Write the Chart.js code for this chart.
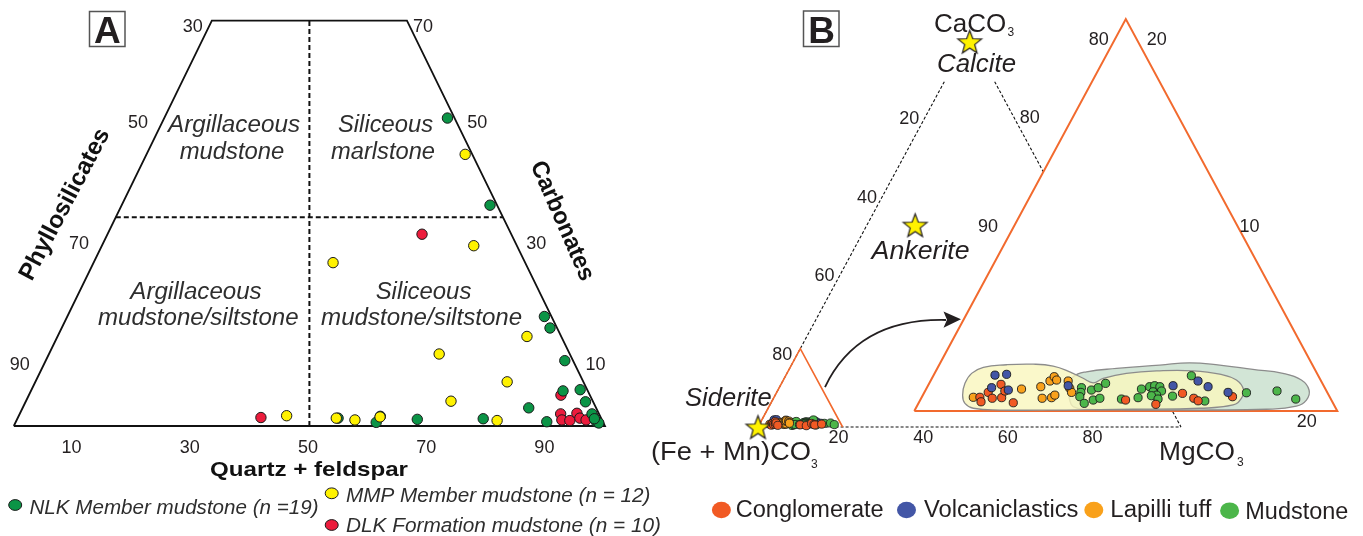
<!DOCTYPE html>
<html>
<head>
<meta charset="utf-8">
<title>Ternary diagrams A and B</title>
<script src="https://cdn.jsdelivr.net/npm/chart.js@4.4.1/dist/chart.umd.min.js"></script>
<style>
  html, body { margin: 0; padding: 0; background: #ffffff; }
  #wrap { position: relative; width: 1363px; height: 536px; overflow: hidden; background: #fff; }
  #wrap canvas { position: absolute; left: 0; top: 0; }
</style>
</head>
<body>
<div id="wrap">
  <canvas id="chartA" width="1363" height="536"></canvas>
  <canvas id="chartB" width="1363" height="536"></canvas>
</div>
<script>
// ================= PANEL A DATA: [Quartz + feldspar %], [Carbonates %] (phyllosilicates = rest)
const nlkQF   = [47.9, 62.3, 80.7, 82.6, 87.8, 90.0, 92.8, 94.7, 85.6, 54.2, 61.0, 61.2, 67.7, 78.8, 89.8, 96.8, 98.2, 98.7, 97.6];
const nlkCarb = [50.9, 36.5, 18.1, 16.2, 10.8,  5.8,  6.0,  4.0,  3.0,  1.3,  0.6,  1.6,  1.1,  1.2,  0.7,  2.0,  0.7,  0.5,  1.2];
const mmpQF   = [53.9, 62.9, 40.5, 79.4, 66.0, 79.8, 71.9, 45.3, 53.9, 57.2, 61.2, 81.3];
const mmpCarb = [44.9, 29.8, 27.0, 14.8, 11.9,  7.3,  4.1,  1.7,  1.3,  1.0,  1.5,  0.9];
const dlkQF   = [53.2, 90.0, 41.1, 91.5, 92.2, 93.6, 94.2, 95.1, 97.3, 96.3];
const dlkCarb = [31.7,  5.1,  1.4,  2.0,  1.0,  0.9,  2.1,  1.3,  1.5,  1.0];
const seriesANames  = ['NLK Member mudstone (n =19)', 'MMP Member mudstone (n = 12)', 'DLK Formation mudstone (n = 10)'];
const seriesAColors = ['#0b9446', '#fff200', '#ec1c3c'];
const topCarb = 67;            // carbonate % at the truncated top edge
const boundaryCarb = 34.5;     // horizontal class boundary (carbonate %)
const boundaryQF = 50;         // vertical class boundary (QF = phyllosilicates)
const tickQF = [10, 30, 50, 70, 90];
const tickPhyllo = [90, 70, 50, 30];
const tickCarb = [10, 30, 50, 70];

// ================= PANEL B DATA: [MgCO3 %], [CaCO3 %] ((Fe+Mn)CO3 = rest)
const conglMg = [2.75, 2.92, 3.02, 3.36, 3.42, 3.79, 3.77, 4.47, 9.71, 11.25, 12.23, 12.89, 13.16, 14.68];
const conglCa = [0.70, 0.47, 0.95, 0.65, 1.36, 0.68, 1.02, 0.42, 0.56, 0.34, 0.90, 0.65, 0.52, 0.73];
const volcMg  = [3.06, 2.90, 3.43, 3.91, 6.63, 11.59, 12.65, 13.27, 14.36];
const volcCa  = [1.19, 1.83, 1.87, 1.07, 1.29, 1.29, 1.53, 1.24, 0.95];
const lapMg   = [2.44, 4.51, 5.36, 5.72, 6.15, 6.24, 5.65, 5.74, 5.94, 6.51, 6.77, 6.96];
const lapCa   = [0.70, 1.12, 1.24, 0.65, 0.68, 0.81, 1.53, 1.75, 1.58, 1.53, 1.16, 0.95];
const mudMg   = [7.31, 7.40, 7.46, 7.84, 7.84, 8.10, 8.34, 8.18, 8.45, 9.49, 10.18, 10.24, 10.51, 10.72, 10.99, 11.18, 10.80, 11.05, 10.82, 11.22, 11.83, 12.20, 13.48, 15.24, 16.64, 17.73];
const mudCa   = [1.19, 0.95, 0.73, 0.39, 1.07, 1.19, 1.41, 0.56, 0.65, 0.61, 1.12, 0.68, 1.24, 1.29, 1.24, 1.02, 0.98, 0.81, 0.78, 0.61, 0.76, 1.80, 0.51, 0.93, 1.02, 0.61];
const seriesBNames  = ['Conglomerate', 'Volcaniclastics', 'Lapilli tuff', 'Mudstone'];
const seriesBColors = ['#f15a24', '#4356a6', '#f9a11b', '#4cb64a'];
// envelopes (field outlines) in the enlarged triangle
const yellowEnvMg = [7.17, 4.02, 2.72, 2.20, 1.88, 1.69, 1.75, 2.15, 3.18, 4.42, 5.42, 6.35, 7.15, 7.74, 8.10, 9.07, 10.58, 12.16, 13.50, 14.44, 15.04, 15.14, 14.92, 13.43, 10.30, 7.17];
const yellowEnvCa = [0.05, 0.05, 0.14, 0.39, 0.81, 1.41, 1.92, 2.23, 2.36, 2.39, 2.29, 2.00, 1.67, 1.44, 1.67, 1.92, 2.05, 2.05, 1.88, 1.58, 1.07, 0.65, 0.31, 0.14, 0.09, 0.05];
const greenEnvMg = [10.32, 8.10, 7.40, 7.07, 6.65, 6.64, 7.14, 8.48, 10.44, 11.79, 13.27, 14.95, 16.47, 17.51, 18.13, 18.26, 17.94, 16.61, 13.47, 10.32];
const greenEnvCa = [0.05, 0.09, 0.22, 0.56, 1.24, 1.75, 2.00, 2.17, 2.34, 2.46, 2.34, 2.12, 1.92, 1.58, 1.07, 0.56, 0.25, 0.09, 0.05, 0.05];
// end-member minerals
const mineralNames = ['Calcite', 'Ankerite', 'Siderite'];
const mineralMg = [0.9, 11.4, 0.0];
const mineralCa = [98.3, 51.5, 0.0];
const tickMainFe = [20, 40, 60, 80];
const tickMainCa = [80];
const tickMainMg = [20, 40, 60, 80];
const tickZoomFe = [80, 90];
const tickZoomCa = [20, 10];
const tickZoomMg = [20];
const zoomMax = 20;          // enlarged triangle covers 0-20 % MgCO3 / CaCO3

// ================= GEOMETRY (layout) =================
const W = 1363, H = 536;
const FONT = '"Liberation Sans", Arial, Helvetica, sans-serif';
const INK = '#231f20';
// Panel A: ternary X = QF + Carb/2, Y = Carb
const A_PX = 5.912, A_X0 = 13.8, A_PY = 6.05, A_Y0 = 426;
const tA = (q, c) => ({ x: q + c / 2, y: c });
// Panel B: X = Mg + Ca/2, Y = Ca (main triangle 0..100)
const B_PX = 4.23, B_X0 = 758, B_PY = 3.92, B_Y0 = 427;
const tB = (mg, ca) => ({ x: mg + ca / 2, y: ca });
const ZK = 100 / zoomMax, ZO = { x: 36.95, y: 4.08 };
const tZ = (mg, ca) => ({ x: ZO.x + ZK * (mg + ca / 2), y: ZO.y + ZK * ca });

function txt(ctx, s, x, y, o) {
  o = o || {};
  ctx.save();
  ctx.translate(x, y);
  if (o.rot) ctx.rotate(o.rot * Math.PI / 180);
  ctx.font = (o.style || 'normal') + ' ' + (o.weight || 'normal') + ' ' + (o.size || 18) + 'px ' + FONT;
  ctx.fillStyle = o.color || INK;
  ctx.textBaseline = o.baseline || 'alphabetic';
  ctx.textAlign = 'left';
  const m = ctx.measureText(s).width;
  const sx = o.w ? o.w / m : 1;
  ctx.scale(sx, 1);
  let off = 0;
  if (o.align === 'center') off = -m / 2; else if (o.align === 'right') off = -m;
  ctx.fillText(s, off, 0);
  ctx.restore();
}

function baseOptions(xmin, xmax, ymin, ymax) {
  return {
    responsive: false, maintainAspectRatio: false, animation: false, devicePixelRatio: 1,
    events: [],
    layout: { padding: 0, autoPadding: false },
    plugins: { legend: { display: false }, tooltip: { enabled: false }, title: { display: false } },
    scales: {
      x: { type: 'linear', min: xmin, max: xmax, display: false },
      y: { type: 'linear', min: ymin, max: ymax, display: false }
    }
  };
}
function lineDS(data, o) {
  return Object.assign({ data, showLine: true, pointRadius: 0, borderColor: '#111', borderWidth: 1.5, fill: false, tension: 0 }, o);
}
function ptDS(label, data, color, o) {
  return Object.assign({ label, data, showLine: false, pointRadius: 5.2, pointBackgroundColor: color,
    pointBorderColor: '#1a1a1a', pointBorderWidth: 1, backgroundColor: color, borderColor: '#1a1a1a' }, o);
}
const zipA = (qs, cs) => qs.map((q, i) => tA(q, cs[i]));
const zipB = (ms, cs, f) => ms.map((m, i) => f(m, cs[i]));

// ================= CHART A =================
const optA = baseOptions(-A_X0 / A_PX, (W - A_X0) / A_PX, -(H - A_Y0) / A_PY, A_Y0 / A_PY);
const textA = {
  id: 'textA',
  afterDraw(chart) {
    const ctx = chart.ctx, xs = chart.scales.x, ys = chart.scales.y;
    const px = p => ({ x: xs.getPixelForValue(p.x), y: ys.getPixelForValue(p.y) });
    // panel letter
    ctx.save(); ctx.strokeStyle = '#555'; ctx.lineWidth = 1.5; ctx.strokeRect(89.5, 11.5, 35.5, 35); ctx.restore();
    txt(ctx, 'A', 107.3, 43.3, { size: 37, weight: 'bold', align: 'center' });
    // bottom ticks
    tickQF.forEach(v => { const p = px(tA(v, 0)); txt(ctx, String(v), p.x - 1.5, p.y + 27, { size: 18, align: 'center' }); });
    // left ticks (phyllosilicates)
    tickPhyllo.forEach(v => {
      const c = 100 - v;
      if (c > topCarb) { const p = px(tA(0, topCarb)); txt(ctx, String(v), p.x - 9, p.y + 11, { size: 18, align: 'right' }); }
      else { const p = px(tA(0, c)); txt(ctx, String(v), p.x - 13.5, p.y + 4, { size: 18, align: 'right' }); }
    });
    // right ticks (carbonates)
    tickCarb.forEach(c => {
      if (c > topCarb) { const p = px(tA(100 - topCarb, topCarb)); txt(ctx, String(c), p.x + 6, p.y + 11, { size: 18, align: 'left' }); }
      else { const p = px(tA(100 - c, c)); txt(ctx, String(c), p.x + 10, p.y + 4, { size: 18, align: 'left' }); }
    });
    // axis titles
    txt(ctx, 'Quartz + feldspar', 309, 476, { size: 21, weight: 'bold', align: 'center', w: 198, color: '#111' });
    txt(ctx, 'Phyllosilicates', 65, 204.5, { size: 24, weight: 'bold', align: 'center', baseline: 'middle', rot: -62.2, w: 168, color: '#111' });
    txt(ctx, 'Carbonates', 562, 221, { size: 24, weight: 'bold', align: 'center', baseline: 'middle', rot: 66.4, w: 128, color: '#111' });
    // field names
    const f = { size: 23, style: 'italic', align: 'center', color: '#2e2e2e' };
    txt(ctx, 'Argillaceous', 234, 131.7, Object.assign({ w: 132 }, f));
    txt(ctx, 'mudstone', 232, 159, Object.assign({ w: 104.7 }, f));
    txt(ctx, 'Siliceous', 385.5, 131.7, Object.assign({ w: 95 }, f));
    txt(ctx, 'marlstone', 383, 159, Object.assign({ w: 104 }, f));
    txt(ctx, 'Argillaceous', 196, 299.3, Object.assign({ w: 131.3 }, f));
    txt(ctx, 'mudstone/siltstone', 198.3, 325, Object.assign({ w: 200.5 }, f));
    txt(ctx, 'Siliceous', 423.5, 299.3, Object.assign({ w: 95.7 }, f));
    txt(ctx, 'mudstone/siltstone', 421.6, 325, Object.assign({ w: 201 }, f));
    // legend
    const leg = [[15.2, 505, 29.5, 514, 289], [331.7, 493.3, 346, 501.7, 304.5], [331.7, 525, 346, 532, 315]];
    leg.forEach((L, i) => {
      ctx.save(); ctx.beginPath(); ctx.ellipse(L[0], L[1], 6.5, 5.4, 0, 0, Math.PI * 2);
      ctx.fillStyle = seriesAColors[i]; ctx.fill(); ctx.lineWidth = 1; ctx.strokeStyle = '#1a1a1a'; ctx.stroke(); ctx.restore();
      txt(ctx, seriesANames[i], L[2], L[3], { size: 20, style: 'italic', w: L[4], color: '#2e2e2e' });
    });
  }
};
new Chart(document.getElementById('chartA'), {
  type: 'scatter',
  data: {
    datasets: [
      lineDS([tA(0, 0), tA(0, topCarb), tA(100 - topCarb, topCarb), tA(100, 0), tA(0, 0)], { borderWidth: 1.8, order: 10 }),
      lineDS([tA(boundaryQF, 0), tA(boundaryQF - topCarb / 2, topCarb)], { borderDash: [5, 3], borderWidth: 2, order: 11 }),
      lineDS([tA(0, boundaryCarb), tA(100 - boundaryCarb, boundaryCarb)], { borderDash: [5, 3], borderWidth: 2, order: 11 }),
      ptDS(seriesANames[2], zipA(dlkQF, dlkCarb), seriesAColors[2], { order: 3 }),
      ptDS(seriesANames[0], zipA(nlkQF, nlkCarb), seriesAColors[0], { order: 2 }),
      ptDS(seriesANames[1], zipA(mmpQF, mmpCarb), seriesAColors[1], { order: 1 })
    ]
  },
  options: optA,
  plugins: [textA]
});

// ================= CHART B =================
function starImg(r) {
  const s = Math.ceil(r * 2 + 4);
  const c = document.createElement('canvas'); c.width = s; c.height = s;
  const g = c.getContext('2d');
  g.translate(s / 2, s / 2 + r * 0.1);
  g.beginPath();
  for (let i = 0; i < 10; i++) {
    const rr = i % 2 ? r * 0.42 : r; const a = -Math.PI / 2 + i * Math.PI / 5;
    g.lineTo(rr * Math.cos(a), rr * Math.sin(a));
  }
  g.closePath(); g.fillStyle = '#fff200'; g.fill(); g.lineWidth = 1.2; g.strokeStyle = '#231f20'; g.stroke();
  return c;
}
const STAR = starImg(12.5);
const optB = baseOptions(-B_X0 / B_PX, (W - B_X0) / B_PX, -(H - B_Y0) / B_PY, B_Y0 / B_PY);
const ORANGE = '#f26a2e';
const textB = {
  id: 'textB',
  afterDraw(chart) {
    const ctx = chart.ctx, xs = chart.scales.x, ys = chart.scales.y;
    const px = p => ({ x: xs.getPixelForValue(p.x), y: ys.getPixelForValue(p.y) });
    ctx.save(); ctx.strokeStyle = '#555'; ctx.lineWidth = 1.5; ctx.strokeRect(803.5, 11, 35.5, 35.5); ctx.restore();
    txt(ctx, 'B', 821.5, 42.5, { size: 37, weight: 'bold', align: 'center' });
    // end-member labels
    txt(ctx, 'CaCO', 934, 32, { size: 26 });
    txt(ctx, '3', 1007.5, 35.5, { size: 12 });
    txt(ctx, '(Fe + Mn)CO', 651, 460, { size: 26, w: 160 });
    txt(ctx, '3', 811, 467.5, { size: 12 });
    txt(ctx, 'MgCO', 1159, 460, { size: 26, w: 76 });
    txt(ctx, '3', 1237, 466, { size: 12 });
    // mineral names
    txt(ctx, mineralNames[0], 937, 72, { size: 25, style: 'italic', w: 79 });
    txt(ctx, mineralNames[1], 871.6, 259, { size: 26, style: 'italic', w: 98 });
    txt(ctx, mineralNames[2], 685, 406, { size: 25, style: 'italic', w: 86.7 });
    // main triangle ticks
    tickMainFe.forEach(v => { const p = px(tB(0, 100 - v)); txt(ctx, String(v), p.x - 8, p.y + 11, { size: 18, align: 'right' }); });
    tickMainCa.forEach(v => { const p = px(tB(100 - v, v)); txt(ctx, String(v), p.x + 8, p.y + 9.5, { size: 18, align: 'left' }); });
    tickMainMg.forEach(v => { const p = px(tB(v, 0)); txt(ctx, String(v), p.x - 4, p.y + 16, { size: 18, align: 'center' }); });
    // enlarged triangle ticks
    tickZoomFe.forEach(v => {
      const ca = 100 - v; const p = px(tZ(0, ca));
      if (ca >= zoomMax) txt(ctx, String(v), p.x - 17, p.y + 26, { size: 18, align: 'right' });
      else txt(ctx, String(v), p.x - 22, p.y + 16.7, { size: 18, align: 'right' });
    });
    tickZoomCa.forEach(v => {
      const p = px(tZ(zoomMax - v, v));
      if (v >= zoomMax) txt(ctx, String(v), p.x + 21, p.y + 26, { size: 18, align: 'left' });
      else txt(ctx, String(v), p.x + 8, p.y + 16.7, { size: 18, align: 'left' });
    });
    tickZoomMg.forEach(v => { const p = px(tZ(v, 0)); txt(ctx, String(v), p.x - 20.6, p.y + 15.7, { size: 18, align: 'right' }); });
    // arrow from small to enlarged triangle
    const a0 = px({ x: 15.84, y: 10.2 }), a1 = px({ x: 23.64, y: 27.8 }), a2 = px({ x: 43.97, y: 27.3 }), tip = px({ x: 47.99, y: 27.5 });
    ctx.save();
    ctx.strokeStyle = INK; ctx.lineWidth = 1.8;
    ctx.beginPath(); ctx.moveTo(a0.x, a0.y); ctx.quadraticCurveTo(a1.x, a1.y, a2.x + 2, a2.y); ctx.stroke();
    ctx.beginPath(); ctx.moveTo(tip.x, tip.y); ctx.lineTo(tip.x - 17.5, tip.y - 7.8); ctx.lineTo(tip.x - 14, tip.y + 0.5); ctx.lineTo(tip.x - 17.5, tip.y + 8.6); ctx.closePath();
    ctx.fillStyle = INK; ctx.fill();
    ctx.restore();
    // legend
    const leg = [[721.4, 510, 735.7, 516.7, 148], [906.5, 510, 923.9, 516.7, 154.6], [1093.8, 510, 1110.3, 516.7, 101], [1229.6, 510.7, 1245.3, 519.3, 103]];
    leg.forEach((L, i) => {
      ctx.save(); ctx.beginPath(); ctx.ellipse(L[0], L[1], 9.5, 8.3, 0, 0, Math.PI * 2);
      ctx.fillStyle = seriesBColors[i]; ctx.fill(); ctx.restore();
      txt(ctx, seriesBNames[i], L[2], L[3], { size: 23, w: L[4] });
    });
  }
};
const topCa = 88.1;  // dashed edges start below the CaCO3 label
const envStyle = { borderColor: '#8c8c8c', borderWidth: 1.3, tension: 0.45, fill: 'shape' };
new Chart(document.getElementById('chartB'), {
  type: 'scatter',
  data: {
    datasets: [
      lineDS([tB(0, topCa), tB(0, 0), tB(100, 0)], { borderDash: [3, 2], borderWidth: 1.1, order: 30 }),
      lineDS([tB(100 - topCa, topCa), tB(100, 0)], { borderDash: [3, 2], borderWidth: 1.1, order: 30 }),
      lineDS([tB(0, 0), tB(0, zoomMax), tB(zoomMax, 0)], { borderColor: ORANGE, borderWidth: 1.6, order: 29 }),
      ptDS(seriesBNames[3], zipB(mudMg, mudCa, tB), seriesBColors[3], { pointRadius: 4.1, pointBorderWidth: 0.8, order: 25 }),
      ptDS(seriesBNames[2], zipB(lapMg, lapCa, tB), seriesBColors[2], { pointRadius: 4.1, pointBorderWidth: 0.8, order: 24 }),
      ptDS(seriesBNames[0], zipB(conglMg, conglCa, tB), seriesBColors[0], { pointRadius: 4.1, pointBorderWidth: 0.8, order: 23 }),
      ptDS(seriesBNames[1], zipB(volcMg, volcCa, tB), seriesBColors[1], { pointRadius: 4.1, pointBorderWidth: 0.8, order: 26 }),
      lineDS([tZ(0, 0), tZ(0, zoomMax), tZ(zoomMax, 0), tZ(0, 0)], { borderColor: ORANGE, borderWidth: 2, backgroundColor: '#ffffff', fill: 'shape', order: 20 }),
      lineDS(zipB(greenEnvMg, greenEnvCa, tZ), Object.assign({ backgroundColor: 'rgba(205,226,210,0.9)', order: 15 }, envStyle)),
      lineDS(zipB(yellowEnvMg, yellowEnvCa, tZ), Object.assign({ backgroundColor: 'rgba(249,246,190,0.82)', order: 14 }, envStyle)),
      ptDS(seriesBNames[3], zipB(mudMg, mudCa, tZ), seriesBColors[3], { pointRadius: 4.1, pointBorderWidth: 0.9, order: 6 }),
      ptDS(seriesBNames[2], zipB(lapMg, lapCa, tZ), seriesBColors[2], { pointRadius: 4.1, pointBorderWidth: 0.9, order: 5 }),
      ptDS(seriesBNames[0], zipB(conglMg, conglCa, tZ), seriesBColors[0], { pointRadius: 4.1, pointBorderWidth: 0.9, order: 4 }),
      ptDS(seriesBNames[1], zipB(volcMg, volcCa, tZ), seriesBColors[1], { pointRadius: 4.1, pointBorderWidth: 0.9, order: 3 }),
      { label: 'End members', data: zipB(mineralMg, mineralCa, tB), showLine: false, pointStyle: STAR, pointRadius: 12, order: 1 }
    ]
  },
  options: optB,
  plugins: [textB]
});
</script>
</body>
</html>
